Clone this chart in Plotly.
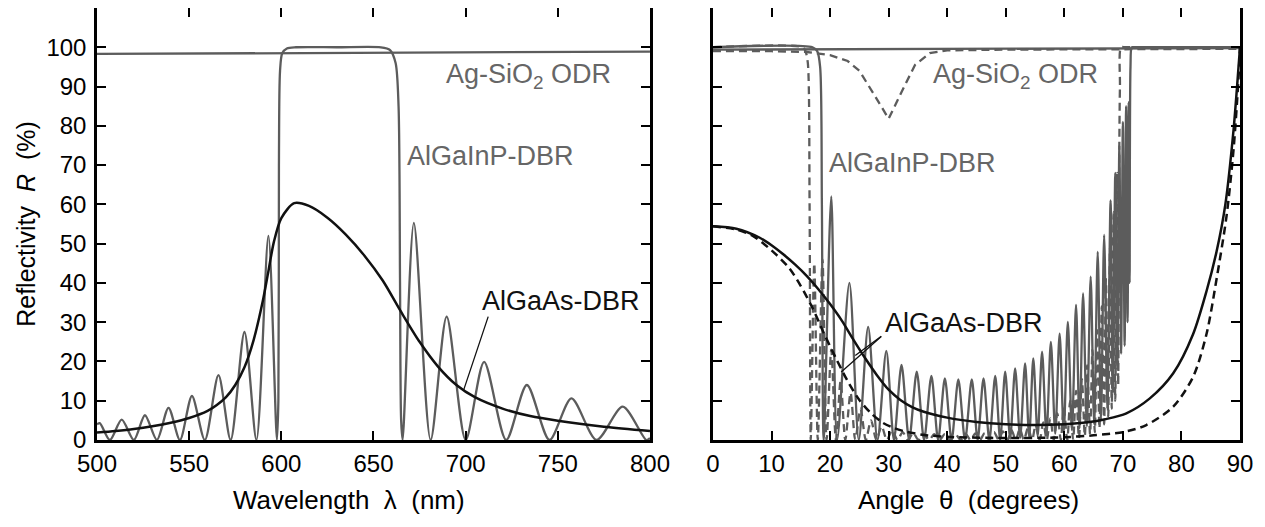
import plotly.graph_objects as go

# ---------------- Left panel data (wavelength, nm) ----------------
lam_odr = [500, 800]
R_odr_lam = [98.3, 98.9]

lam_ingap = [500, 501.5, 507, 513.4, 520, 526, 532.5, 538.8, 545, 551.5, 558.5, 565.9,
             572.5, 580, 586.5, 593, 597.6, 598.4, 598.7, 599.3, 600.5, 603, 608, 630,
             654, 659, 662, 663.6, 664.4, 665.0, 665.8, 671.9, 681, 689.7, 700, 710,
             722, 733.2, 745.5, 757.4, 771, 785.2, 798, 800]
R_ingap_lam = [4.0, 4.3, 0, 5.2, 0, 6.3, 0, 8.2, 0, 11.2, 0, 16.5,
               0, 27.5, 0, 52, 0, 10, 70, 94, 98.5, 99.7, 100, 100,
               100, 99.3, 96, 85, 40, 5, 0, 55.3, 0, 31.4, 0, 19.9,
               0, 14, 0, 10.6, 0, 8.5, 0, 0.5]

lam_gaas = [500, 510, 520, 530, 540, 550, 560, 565, 570, 575, 580, 585, 590, 593,
            596, 600, 607, 615, 625, 635, 645, 655, 665, 675, 685, 695,
            705, 720, 735, 750, 775, 800]
R_gaas_lam = [1.9, 2.3, 2.8, 3.5, 4.4, 5.6, 7.4, 8.9, 10.9, 14.0, 18.5, 25.5, 35.5, 43,
              50.5, 56.5, 60.3, 59.6, 56.6, 52.3, 47.0, 40.6, 32.6, 25.0, 18.7, 14.0,
              10.9, 8.0, 6.1, 4.9, 3.4, 2.3]

# ---------------- Right panel data (angle, degrees) ----------------
th_odr_s = [0, 90]
R_odr_s = [99.4, 99.8]

th_odr_d = [0, 10, 16, 20, 23, 25, 27.5, 30, 32, 34.5, 37, 40, 50, 70, 90]
R_odr_d = [99.0, 99.0, 98.8, 98.0, 96.5, 94.0, 88.0, 81.8, 88.0, 95.5, 98.5, 99.2, 99.4, 99.5, 99.6]

th_ingap_s = [0, 17.0, 17.8, 18.3, 18.6, 18.9, 20.2, 21.2, 23.3, 24.9, 26.5, 28.1,
              29.6, 30.9, 32.2, 33.5, 34.8, 36.05, 37.3, 38.45, 39.6, 40.75, 41.9, 43.05,
              44.2, 45.2, 46.2, 47.2, 48.2, 49.05, 49.9, 50.75, 51.6, 52.45, 53.3, 54.0,
              54.7, 55.45, 56.2, 56.95, 57.7, 58.45, 59.2, 59.9, 60.6, 61.3, 62.0, 62.6,
              63.2, 63.85, 64.5, 65.1, 65.7, 66.25, 66.8, 67.35, 67.9, 68.3, 68.7, 69.05,
              69.4, 69.7, 70.0, 70.3, 70.55, 70.8, 71.0, 71.15, 71.3, 71.5, 71.8, 90]
R_ingap_s = [100, 100, 99, 95, 60, 0, 62, 0, 40, 0, 28.8, 0,
             22.7, 0, 19.1, 0, 17.4, 0, 16.3, 0, 15.7, 0, 15.4, 0,
             15.4, 0, 15.7, 0, 16.3, 0, 17.4, 0.3, 18.2, 0.5, 19.5, 0.7,
             20.8, 1, 22.5, 1.3, 25, 1.6, 27.1, 2, 30.1, 2.5, 34.4, 3,
             37.3, 3.5, 41.6, 4, 47.9, 5, 52.2, 8, 61, 12, 68, 18,
             75, 22, 81, 24, 85, 30, 86, 40, 95, 100, 100, 100]

th_ingap_d = [0, 15.3, 15.8, 16.2, 16.5, 16.7, 17.3, 17.9, 18.7, 19.4, 20.2, 21.0,
              21.8, 22.6, 23.5, 24.3, 25.2, 26.1, 27.0, 27.9, 28.8, 29.7, 30.6, 31.5,
              32.4, 33.3, 34.2, 35.1, 36.0, 36.9, 37.8, 38.7, 39.6, 40.5, 41.4, 42.3,
              43.1, 44.0, 44.8, 45.6, 46.4, 47.2, 48.0, 48.8, 49.5, 50.3, 51.0, 51.7,
              52.4, 53.1, 53.8, 54.5, 55.1, 55.8, 56.4, 57.0, 57.6, 58.2, 58.8, 59.4,
              59.9, 60.5, 61.0, 61.5, 62.0, 62.5, 63.0, 63.5, 63.9, 64.4, 64.8, 65.2,
              65.6, 66.0, 66.4, 66.8, 67.1, 67.5, 67.8, 68.1, 68.4, 68.7, 69.0, 69.2,
              69.4, 69.5, 69.7, 70.5, 90]
R_ingap_d = [100, 100, 99, 96, 60, 0, 45, 0, 46, 0, 23, 0,
             15, 0, 12, 0, 8, 0, 5, 0, 3.5, 0, 2.5, 0,
             2, 0, 1.8, 0, 1.6, 0, 1.5, 0, 1.5, 0, 1.5, 0,
             1.6, 0, 1.7, 0, 1.8, 0, 2, 0, 2.2, 0, 2.5, 0,
             2.8, 0, 3.2, 0, 3.8, 0, 4.5, 0, 5.5, 0, 6.8, 0,
             8.3, 0, 10, 0, 12.5, 0.5, 15.5, 1, 19, 1.5, 23, 2,
             28, 3, 34, 4, 41, 6, 49, 8, 58, 10, 68, 14,
             76, 90, 100, 100, 100]

th_gaas_s = [0, 4, 8, 10, 12, 14, 16, 18, 20, 22, 24, 26, 28, 30, 32, 34, 36, 40, 45,
             50, 55, 60, 64, 67, 70.6, 74.6, 78.6, 82, 84.3, 86, 87.5, 88.9, 89.5, 90]
R_gaas_s = [54.4, 53.8, 51.5, 49.6, 47.3, 44.7, 41.8, 38.4, 34.6, 30.4, 25.5, 20.8, 16.5, 12.8, 10.2, 8.4, 7.2, 5.7, 4.6,
            4.0, 3.8, 4.0, 4.5, 5.3, 6.8, 10.6, 17, 27, 38, 48, 60, 79, 90, 100]

th_gaas_d = [0, 4, 7, 10, 13, 15, 17, 19, 21, 23, 25, 27, 29, 31, 33, 36, 40,
             50, 60, 65, 70, 74, 78.6, 82, 84.3, 86, 87.7, 88.9, 89.7, 90]
R_gaas_d = [54.4, 53.6, 51.8, 48.3, 43.8, 39.2, 33.6, 27.0, 20.8, 15.0, 10.2, 6.8, 4.4, 3.0, 2.1, 1.3, 0.8,
            0.5, 0.7, 1.2, 2.0, 3.8, 8.5, 16.1, 27.1, 41, 57, 74, 91, 100]

# leader lines (data coordinates: start -> end)
lead_left = [(712.5, 31.8), (698.9, 12.7)]
lead_right_1 = [(29.0, 26.7), (21.9, 17.3)]
lead_right_2 = [(29.0, 26.7), (24.3, 21.5)]

GRAY = '#5c5c5c'
GRAY_TXT = '#666666'
BLACK = '#111111'
FONT = 'Liberation Sans, Arial, sans-serif'
DASH = '8px,5px'

fig = go.Figure()

def add(x, y, color, dash='solid', xa='x', ya='y', shape='spline', width=2.3):
    fig.add_trace(go.Scatter(x=x, y=y, mode='lines', xaxis=xa, yaxis=ya,
                             line=dict(color=color, width=width, dash=dash, shape=shape,
                                       smoothing=0.8 if shape == 'spline' else None),
                             showlegend=False, hoverinfo='skip'))

# left panel
add(lam_odr, R_odr_lam, GRAY, shape='linear')
add(lam_ingap, R_ingap_lam, GRAY)
add(lam_gaas, R_gaas_lam, BLACK, width=2.5)

# right panel
add(th_odr_s, R_odr_s, GRAY, xa='x2', ya='y2', shape='linear')
add(th_odr_d, R_odr_d, GRAY, dash=DASH, xa='x2', ya='y2', shape='linear')
add(th_ingap_d, R_ingap_d, GRAY, dash=DASH, xa='x2', ya='y2')
add(th_ingap_s, R_ingap_s, GRAY, xa='x2', ya='y2')
add(th_gaas_d, R_gaas_d, BLACK, dash=DASH, xa='x2', ya='y2', width=2.5)
add(th_gaas_s, R_gaas_s, BLACK, xa='x2', ya='y2', width=2.5)

axis_common = dict(showline=True, linewidth=2.5, linecolor='black', mirror='ticks',
                   ticks='inside', ticklen=9, tickwidth=2, tickcolor='black',
                   showgrid=False, zeroline=False, automargin=False,
                   tickfont=dict(size=24, color='black', family=FONT))

lam_ticks = [500, 550, 600, 650, 700, 750, 800]
th_ticks = [0, 10, 20, 30, 40, 50, 60, 70, 80, 90]
R_ticks = [0, 10, 20, 30, 40, 50, 60, 70, 80, 90, 100]

# the page body adds an 8 px offset, so the figure is sized to fit inside the window
fig.update_layout(
    width=1249, height=511,
    margin=dict(l=89, r=17, t=0, b=79),
    paper_bgcolor='white', plot_bgcolor='white',
    font=dict(family=FONT, color='black'),
    xaxis=dict(domain=[0, 0.4838], range=[500, 800], tickvals=lam_ticks,
               anchor='y', **axis_common),
    yaxis=dict(domain=[0, 1], range=[0, 110], tickvals=R_ticks, ticklabelstandoff=3,
               title=dict(text='Reflectivity  <i>R</i>  (%)', font=dict(size=25), standoff=4),
               anchor='x', **axis_common),
    xaxis2=dict(domain=[0.5389, 1], range=[0, 90], tickvals=th_ticks,
                anchor='y2', **axis_common),
    yaxis2=dict(domain=[0, 1], range=[0, 110], tickvals=R_ticks, showticklabels=False,
                anchor='x2', **axis_common),
)

# axis titles (placed as paper annotations to match the reference offsets)
fig.add_annotation(text='Wavelength  λ  (nm)', x=0.2205, y=-0.139, xref='paper', yref='paper',
                   showarrow=False, xanchor='center', yanchor='middle',
                   font=dict(size=26, color='black', family=FONT))
fig.add_annotation(text='Angle  θ  (degrees)', x=0.7629, y=-0.139, xref='paper', yref='paper',
                   showarrow=False, xanchor='center', yanchor='middle',
                   font=dict(size=26, color='black', family=FONT))

def label(text, x, y, color, xa='x', ya='y', size=27):
    fig.add_annotation(text=text, x=x, y=y, xref=xa, yref=ya, showarrow=False,
                       font=dict(size=size, color=color, family=FONT),
                       xanchor='center', yanchor='middle')

label('Ag-SiO<sub>2</sub> ODR', 734.0, 92.7, GRAY_TXT)
label('AlGaInP-DBR', 713.6, 72.3, GRAY_TXT)
label('AlGaAs-DBR', 751.6, 35.4, BLACK)
label('Ag-SiO<sub>2</sub> ODR', 51.7, 92.7, GRAY_TXT, 'x2', 'y2')
label('AlGaInP-DBR', 34.0, 70.5, GRAY_TXT, 'x2', 'y2')
label('AlGaAs-DBR', 42.9, 29.9, BLACK, 'x2', 'y2')

def leader(seg, xa, ya):
    (x0, y0), (x1, y1) = seg
    fig.add_annotation(x=x1, y=y1, ax=x0, ay=y0, xref=xa, yref=ya, axref=xa, ayref=ya,
                       text='', showarrow=True, arrowhead=0, arrowwidth=1.3,
                       arrowcolor=BLACK)

leader(lead_left, 'x', 'y')
leader(lead_right_1, 'x2', 'y2')
leader(lead_right_2, 'x2', 'y2')

fig.write_html('out.html')
